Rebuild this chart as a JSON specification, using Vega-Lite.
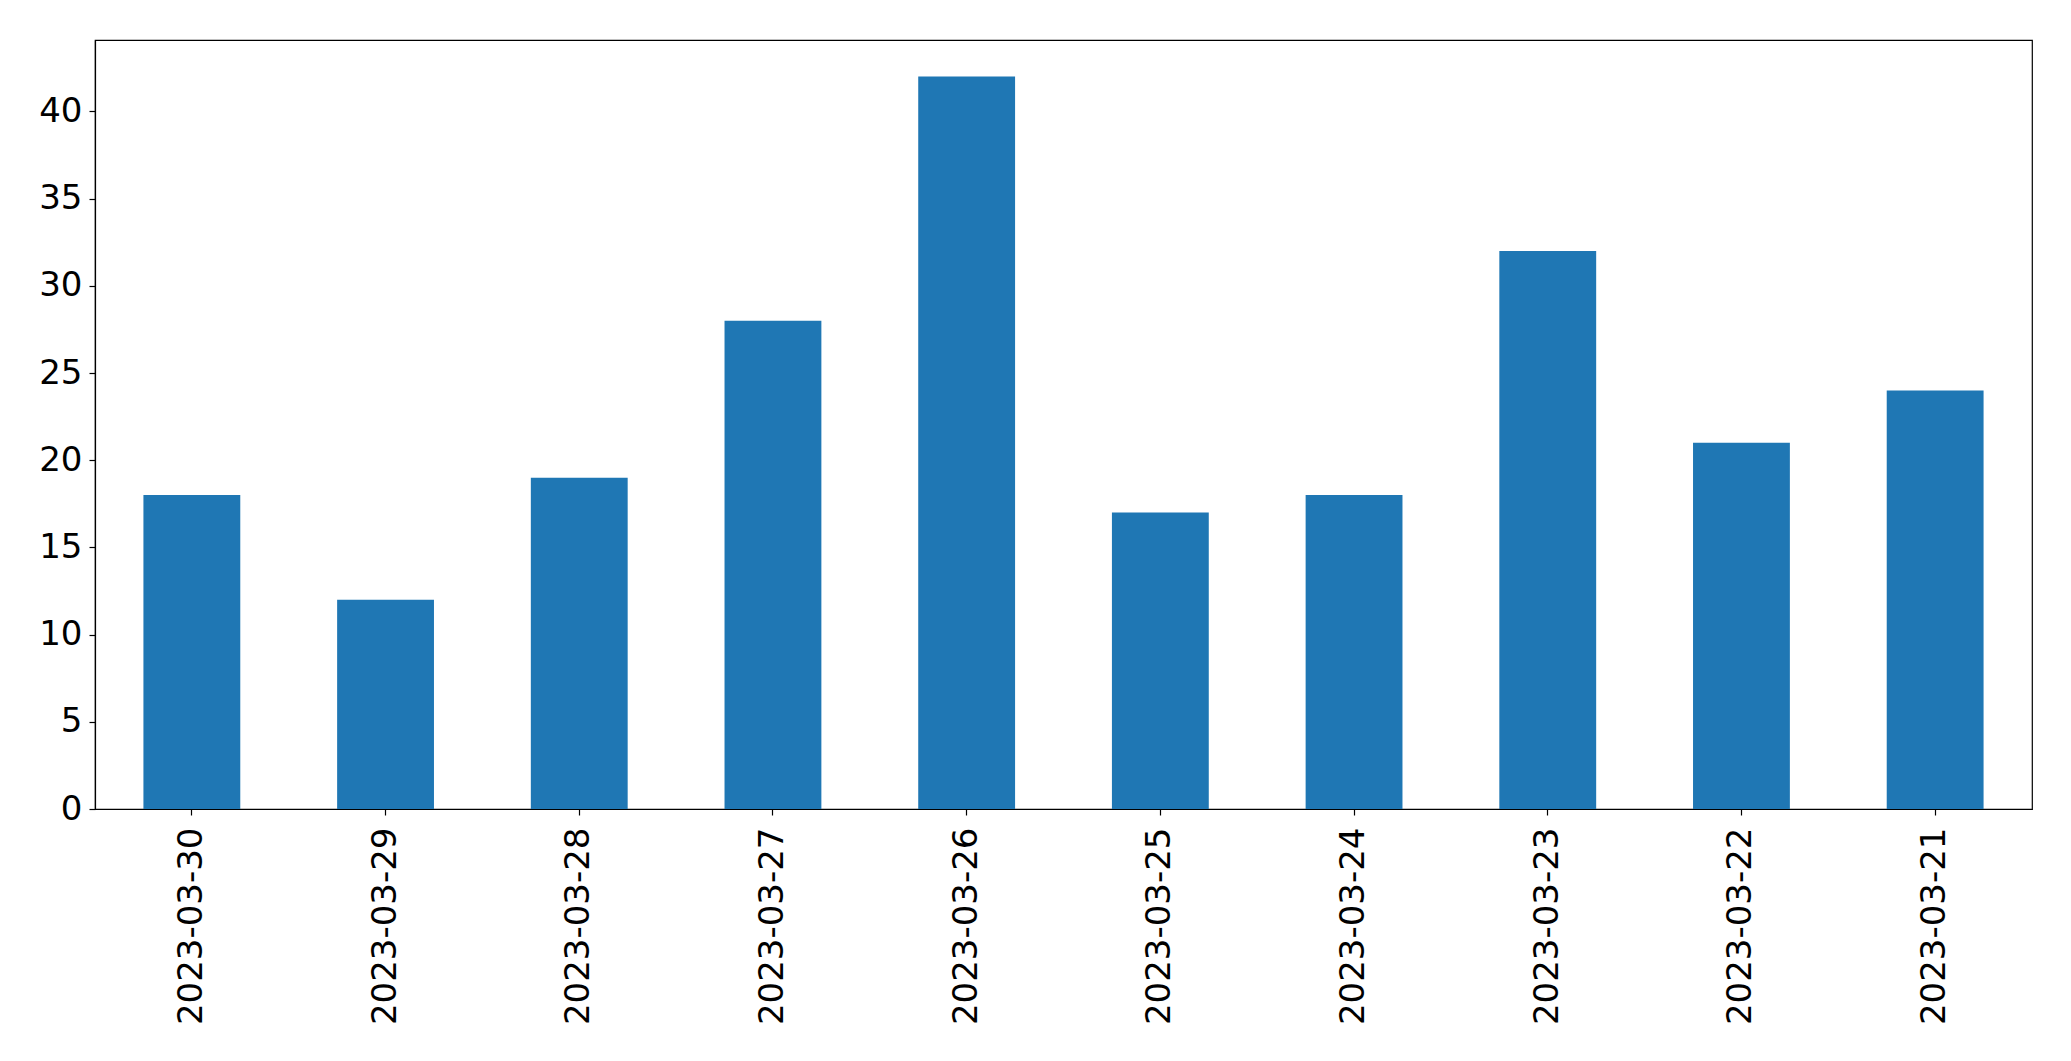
{
  "$schema": "https://vega.github.io/schema/vega-lite/v6.json",
  "width": 1937,
  "height": 769,
  "autosize": "none",
  "padding": {"left": 95, "top": 40, "right": 39, "bottom": 252},
  "background": "white",
  "config": {
    "view": {"stroke": "black", "strokeWidth": 1.2},
    "axis": {
      "labelFont": "DejaVu Sans",
      "labelFontSize": 34,
      "labelColor": "black",
      "labelLimit": 0,
      "tickColor": "black",
      "tickSize": 6,
      "tickWidth": 1.2,
      "domainColor": "black",
      "domainWidth": 1.2,
      "grid": false,
      "title": null
    }
  },
  "data": {
    "values": [
      {"date": "2023-03-30", "count": 18},
      {"date": "2023-03-29", "count": 12},
      {"date": "2023-03-28", "count": 19},
      {"date": "2023-03-27", "count": 28},
      {"date": "2023-03-26", "count": 42},
      {"date": "2023-03-25", "count": 17},
      {"date": "2023-03-24", "count": 18},
      {"date": "2023-03-23", "count": 32},
      {"date": "2023-03-22", "count": 21},
      {"date": "2023-03-21", "count": 24}
    ]
  },
  "mark": {"type": "bar", "color": "#1f77b4"},
  "encoding": {
    "x": {
      "field": "date",
      "type": "nominal",
      "sort": null,
      "scale": {"paddingInner": 0.5, "paddingOuter": 0.25},
      "axis": {"labelAngle": -90, "labelAlign": "right", "labelBaseline": "middle", "labelPadding": 12, "labelLimit": 0}
    },
    "y": {
      "field": "count",
      "type": "quantitative",
      "scale": {"domain": [0, 44.1], "nice": false},
      "axis": {"values": [0, 5, 10, 15, 20, 25, 30, 35, 40], "labelPadding": 7}
    }
  }
}
